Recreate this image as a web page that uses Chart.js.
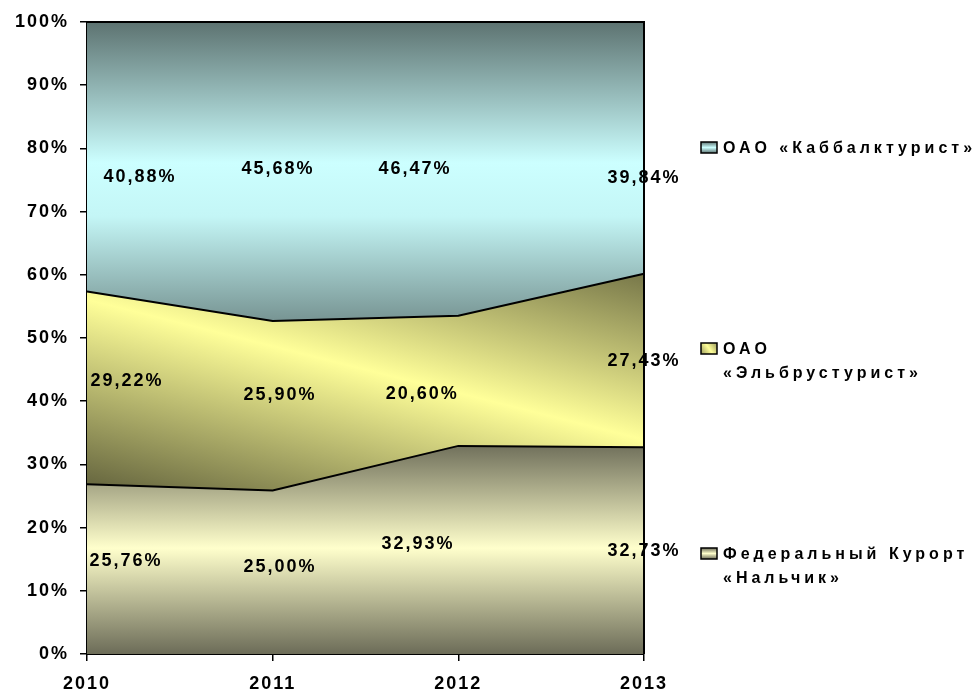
<!DOCTYPE html>
<html><head><meta charset="utf-8">
<script src="https://cdn.jsdelivr.net/npm/chart.js@4.4.0/dist/chart.umd.min.js"></script>
<style>html,body{margin:0;padding:0;background:#fff;}#wrap{width:979px;height:692px;position:relative;}</style>
</head><body><div id="wrap"><canvas id="c" width="979" height="692"></canvas></div>
<script>
// ---- data ----
const years = ['2010', '2011', '2012', '2013'];
const nalchik = [25.76, 25.00, 32.93, 32.73];   // Федеральный Курорт «Нальчик»
const elbrus  = [29.22, 25.90, 20.60, 27.43];   // ОАО «Эльбрустурист»
const kabbal  = [40.88, 45.68, 46.47, 39.84];   // ОАО «Каббалктурист»
const nameNalchik = ['Федеральный Курорт', '«Нальчик»'];
const nameElbrus  = ['ОАО', '«Эльбрустурист»'];
const nameKabbal  = ['ОАО «Каббалктурист»'];
const yMin = 0, yMax = 100, yStep = 10;

// label anchor positions (layout only): [fractional category index, % value]
const anchorsNalchik = [[0.205, 14.9], [1.034, 13.9], [1.777, 17.6], [2.995, 16.5]];
const anchorsElbrus  = [[0.21, 43.4], [1.034, 41.1], [1.80, 41.3], [2.995, 46.5]];
const anchorsKabbal  = [[0.28, 75.7], [1.023, 76.9], [1.761, 76.9], [2.995, 75.5]];

const totals = years.map((_, i) => nalchik[i] + elbrus[i] + kabbal[i]);
const share = arr => arr.map((v, i) => v / totals[i] * 100);

const FONT = '"Liberation Sans", Arial, sans-serif';

function gradTop(ctx, area) {
  const y = (v) => area.bottom - (area.bottom - area.top) * v / 100;
  const g = ctx.createLinearGradient(0, y(100), 0, y(47));
  g.addColorStop(0, '#5d7371');
  g.addColorStop(0.42, '#ccffff');
  g.addColorStop(0.58, '#c4f6f6');
  g.addColorStop(1, '#5d7371');
  return g;
}
function gradMid(ctx, area) {
  const w = area.right - area.left, h = area.bottom - area.top;
  const mx = area.left + w * 0.5, my = area.top + h * 0.55;
  const dx = 0.244 * 175, dy = -0.970 * 175;
  const g = ctx.createLinearGradient(mx - dx, my - dy, mx + dx, my + dy);
  g.addColorStop(0, '#6b6b42');
  g.addColorStop(0.5, '#ffff99');
  g.addColorStop(1, '#6b6b42');
  return g;
}
function gradBot(ctx, area) {
  const y = (v) => area.bottom - (area.bottom - area.top) * v / 100;
  const g = ctx.createLinearGradient(0, y(33.5), 0, y(0));
  g.addColorStop(0, '#6c6c58');
  g.addColorStop(0.5, '#ffffcc');
  g.addColorStop(1, '#6c6c58');
  return g;
}
function bg(fn) {
  return (c) => {
    const area = c.chart.chartArea;
    if (!area) return '#ffffcc';
    return fn(c.chart.ctx, area);
  };
}

const fmt = v => v.toFixed(2).replace('.', ',') + '%';

const overlay = {
  id: 'overlay',
  beforeDraw(chart) { chart.ctx.letterSpacing = '2px'; },
  afterDatasetsDraw(chart) {
    const ctx = chart.ctx, a = chart.chartArea;
    const xs = chart.scales.x, ys = chart.scales.y;
    ctx.save();
    ctx.strokeStyle = '#000';
    ctx.lineWidth = 2;
    ctx.beginPath();
    ctx.moveTo(a.left, a.top); ctx.lineTo(a.right, a.top); ctx.lineTo(a.right, a.bottom);
    ctx.stroke();
    // data labels
    ctx.fillStyle = '#000';
    ctx.font = 'bold 18px ' + FONT;
    ctx.letterSpacing = '2px';
    ctx.textAlign = 'center';
    ctx.textBaseline = 'middle';
    const groups = [[nalchik, anchorsNalchik], [elbrus, anchorsElbrus], [kabbal, anchorsKabbal]];
    groups.forEach(([vals, anc]) => {
      vals.forEach((v, i) => {
        ctx.fillText(fmt(v), xs.getPixelForValue(anc[i][0]) + 1, ys.getPixelForValue(anc[i][1]) + 1);
      });
    });
    ctx.restore();
  },
  afterDraw(chart) {
    const ctx = chart.ctx, a = chart.chartArea;
    ctx.save();
    const legend = [
      [nameKabbal, 'top'],
      [nameElbrus, 'mid'],
      [nameNalchik, 'bot']
    ];
    ctx.font = 'bold 16px ' + FONT;
    ctx.letterSpacing = '4px';
    ctx.textBaseline = 'middle';
    ctx.textAlign = 'left';
    const boxX = a.right + 57;
    legendRows.forEach((row, k) => {
      const [lines, kind] = legend[k];
      const cy = row;
      const bx = boxX, by = cy - 6, bw = 16, bh = 11;
      let g;
      if (kind === 'mid') {
        g = ctx.createLinearGradient(bx, by + bh, bx + bw, by);
        g.addColorStop(0, '#9a9a5c'); g.addColorStop(0.5, '#ffff99'); g.addColorStop(1, '#9a9a5c');
      } else {
        g = ctx.createLinearGradient(0, by, 0, by + bh);
        const dark = kind === 'top' ? '#5d7371' : '#6c6c58';
        const light = kind === 'top' ? '#ccffff' : '#ffffcc';
        g.addColorStop(0, dark); g.addColorStop(0.5, light); g.addColorStop(1, dark);
      }
      ctx.fillStyle = g;
      ctx.fillRect(bx, by, bw, bh);
      ctx.strokeStyle = '#000';
      ctx.lineWidth = 1.5;
      ctx.strokeRect(bx, by, bw, bh);
      ctx.fillStyle = '#000';
      lines.forEach((t, j) => ctx.fillText(t, bx + 22, cy + 1 + j * 24));
    });
    ctx.restore();
    ctx.letterSpacing = '0px';
  }
};
const legendRows = [148, 349, 554];

new Chart(document.getElementById('c'), {
  type: 'line',
  data: {
    labels: years,
    datasets: [
      { label: nameNalchik.join(' '), data: share(nalchik), fill: 'origin', backgroundColor: bg(gradBot) },
      { label: nameElbrus.join(' '), data: share(elbrus), fill: '-1', backgroundColor: bg(gradMid) },
      { label: nameKabbal.join(' '), data: share(kabbal), fill: '-1', backgroundColor: bg(gradTop) }
    ]
  },
  options: {
    responsive: false,
    animation: false,
    layout: { padding: { left: 0, top: 22, right: 335, bottom: 0 } },
    elements: {
      line: { borderColor: '#000', borderWidth: 2, tension: 0 },
      point: { radius: 0, hoverRadius: 0 }
    },
    plugins: { legend: { display: false }, tooltip: { enabled: false } },
    scales: {
      x: {
        offset: false,
        grid: { display: true, drawOnChartArea: false, drawTicks: true, tickLength: 7, color: '#000', lineWidth: 1.5 },
        border: { display: true, color: '#000', width: 2 },
        ticks: { color: '#000', font: { family: FONT, size: 18, weight: 'bold' }, padding: 12, maxRotation: 0 },
        afterFit(s) { s.height = 38; }
      },
      y: {
        stacked: true,
        min: yMin, max: yMax,
        grid: { display: true, drawOnChartArea: false, drawTicks: true, tickLength: 7, color: '#000', lineWidth: 1.5 },
        border: { display: true, color: '#000', width: 2 },
        ticks: { stepSize: yStep, color: '#000', font: { family: FONT, size: 18, weight: 'bold' }, padding: 11, callback: v => v + '%' },
        afterFit(s) { s.width = 87; }
      }
    }
  },
  plugins: [overlay]
});
</script>
</body></html>
